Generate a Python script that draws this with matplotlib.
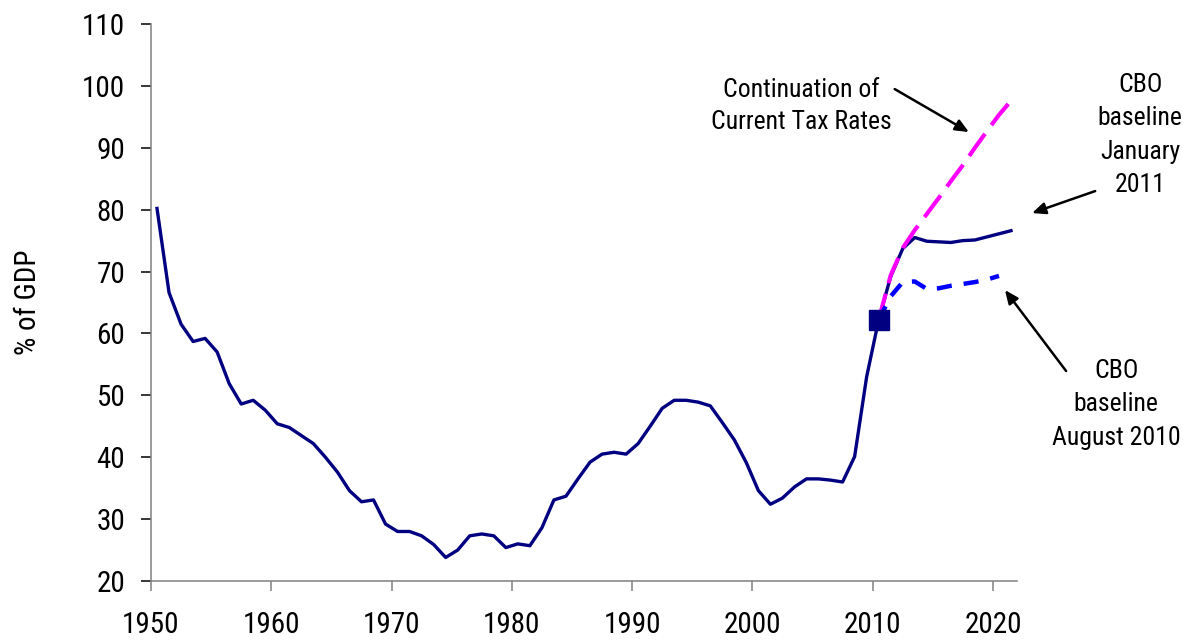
import numpy as np
import matplotlib.pyplot as plt

# the original uses Arial Narrow; take the first narrow face that is installed
plt.rcParams['font.family'] = ['Liberation Sans Narrow', 'Arial Narrow', 'Roboto Condensed',
                               'Open Sans Condensed', 'Liberation Sans']
plt.rcParams['font.stretch'] = 'condensed'

# debt held by the public, % of GDP (fiscal years 1950-2010)
hist_years = np.arange(1950, 2011)
hist_debt = [80.2, 66.6, 61.5, 58.7, 59.2, 57.0, 51.9, 48.6, 49.2, 47.6,
             45.4, 44.8, 43.5, 42.2, 40.0, 37.6, 34.6, 32.8, 33.1, 29.2,
             28.0, 28.0, 27.3, 25.9, 23.8, 25.0, 27.3, 27.6, 27.3, 25.4,
             26.0, 25.7, 28.6, 33.1, 33.7, 36.5, 39.2, 40.5, 40.8, 40.5,
             42.2, 45.0, 47.9, 49.2, 49.2, 48.9, 48.3, 45.6, 42.8, 39.1,
             34.6, 32.4, 33.4, 35.2, 36.5, 36.5, 36.3, 36.0, 40.1, 53.0,
             62.2]

# CBO baseline January 2011
jan_years = np.arange(2010, 2022)
jan_debt = [62.2, 69.2, 73.7, 75.5, 74.9, 74.8, 74.7, 75.0, 75.1, 75.6, 76.1, 76.6]

# continuation of current tax rates
cont_years = np.arange(2010, 2022)
cont_debt = [62.2, 69.4, 73.8, 76.7, 79.3, 81.9, 84.6, 87.2, 90.0, 92.7, 95.3, 97.6]

# CBO baseline August 2010
aug_years = np.arange(2010, 2021)
aug_debt = [62.2, 66.0, 68.3, 68.4, 67.2, 67.3, 67.7, 68.0, 68.3, 68.7, 69.3]

navy = '#000080'
magenta = '#FF00FF'
blue = '#0000FF'
spine_col = '#808080'

fig = plt.figure(figsize=(11.83, 6.42), dpi=100)
ax = fig.add_axes([151 / 1183, 1 - 581 / 642, (1017 - 151) / 1183, (581 - 24) / 642])

# values sit in the middle of each year's slot
ax.plot(hist_years + 0.5, hist_debt, color=navy, lw=2.4, solid_joinstyle='round')
ax.plot(jan_years + 0.5, jan_debt, color=navy, lw=2.4, solid_joinstyle='round')
ax.plot(cont_years + 0.5, cont_debt, color=magenta, lw=3, dashes=(6.5, 2.6))
ax.plot(aug_years + 0.5, aug_debt, color=blue, lw=3.2, dashes=(3.4, 2.7))
ax.plot(hist_years[-1] + 0.5, hist_debt[-1], marker='s', ms=14, color=navy, ls='none')

ax.set_xlim(1950, 2022)
ax.set_ylim(20, 110)
ax.set_xticks(np.arange(1950, 2021, 10))
ax.set_yticks(np.arange(20, 111, 10))

for s in ['top', 'right']:
    ax.spines[s].set_visible(False)
for s in ['left', 'bottom']:
    ax.spines[s].set_color(spine_col)
    ax.spines[s].set_linewidth(1.1)

ax.tick_params(axis='y', length=7, width=1.1, color='black', pad=11.5, labelsize=21)
ax.tick_params(axis='x', length=7.5, width=1.1, color=spine_col, pad=14, labelsize=21)
ax.set_ylabel('% of GDP', fontsize=21, labelpad=29)


def px(x, y):
    # pixel position in the image -> data coordinates
    return 1950 + (x - 151) / 12, 20 + (581 - y) / 6.19


arrow = dict(arrowstyle='-|>,head_length=0.8,head_width=0.35', color='black', lw=1.8,
             shrinkA=0, shrinkB=0)
ax.annotate('', xy=px(967, 132), xytext=px(893, 89), arrowprops=arrow, annotation_clip=False)
ax.annotate('', xy=px(1030, 213), xytext=px(1093, 191), arrowprops=arrow, annotation_clip=False)
ax.annotate('', xy=px(1003, 290), xytext=px(1064, 371), arrowprops=arrow, annotation_clip=False)

ax.text(*px(800, 106), 'Continuation of\nCurrent Tax Rates', ha='center', va='center',
        fontsize=18.5, linespacing=1.4, clip_on=False)
ax.text(*px(1138, 135), 'CBO\nbaseline\nJanuary\n2011', ha='center', va='center',
        fontsize=18.5, linespacing=1.5, clip_on=False)
ax.text(*px(1114, 404), 'CBO\nbaseline\nAugust 2010', ha='center', va='center',
        fontsize=18.5, linespacing=1.5, clip_on=False)

fig.savefig('out.png', dpi=100)
